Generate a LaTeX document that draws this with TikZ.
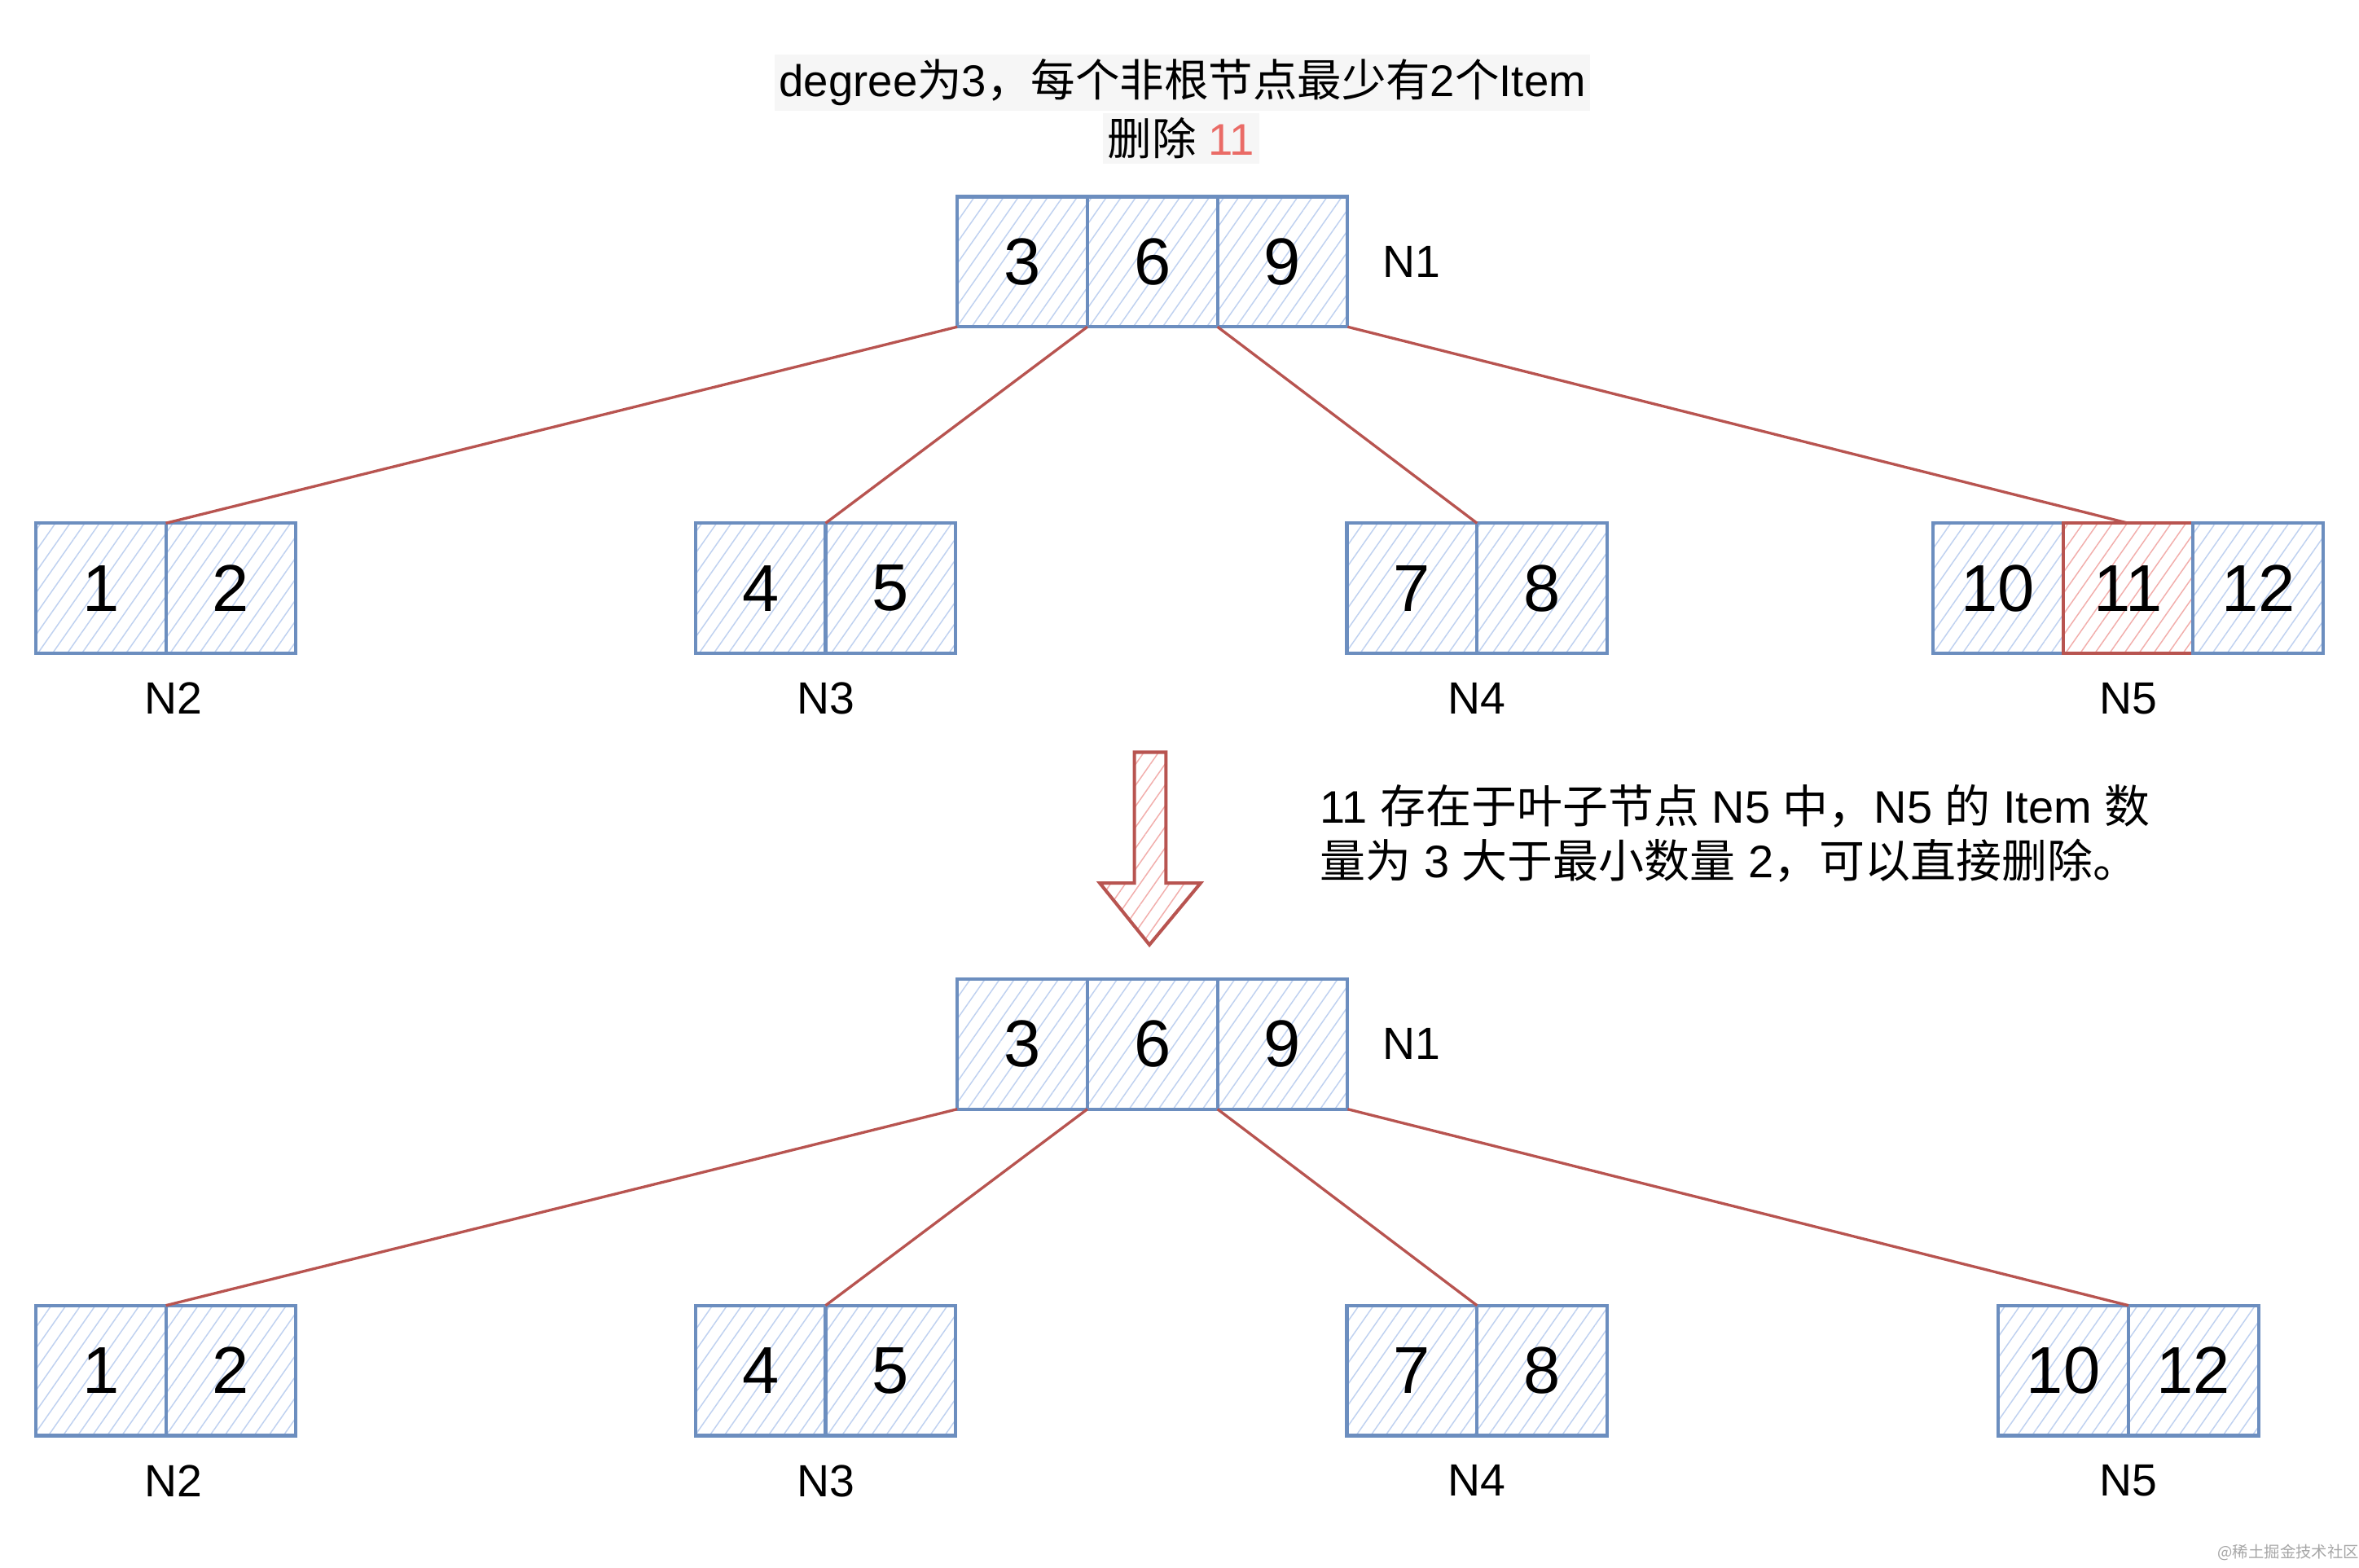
\documentclass[tikz,border=0pt]{standalone}
\usepackage{fontspec}
\setmainfont{Liberation Sans}
\newfontfamily\cjk{Noto Sans CJK SC}
\newcommand{\zh}[1]{{\cjk #1}}
\usetikzlibrary{positioning, patterns.meta}
\definecolor{cellblue}{HTML}{6C8EBF}
\definecolor{hatchblue}{HTML}{BFD1F0}
\definecolor{edgered}{HTML}{B85450}
\definecolor{hatchred}{HTML}{F2AEAC}
\definecolor{notered}{HTML}{EA6B66}
\definecolor{titlebg}{HTML}{F6F6F6}

\begin{document}
\begin{tikzpicture}[x=1pt, y=-1pt,
  cell/.style={rectangle, draw=cellblue, line width=2.2pt, minimum size=86.5pt, inner sep=0pt, outer sep=0pt, pattern={Lines[angle=55, distance=8pt, line width=0.8pt]}, pattern color=hatchblue, font=\fontsize{44}{50}\selectfont},
  delcell/.style={cell, draw=edgered, pattern color=hatchred},
  lbl/.style={font=\fontsize{30}{36}\selectfont},
  note/.style={font=\fontsize{29.5}{36}\selectfont, align=left},
  link/.style={draw=edgered, line width=1.8pt}
]
\fill[white] (0,0) rectangle (1568,1042);
\useasboundingbox (0,0) rectangle (1568,1042);

% title
\node[note, fill=titlebg, inner sep=3pt] (title) at (786,55) {degree\zh{为}3\zh{，每个非根节点最少有}2\zh{个}Item};
\node[note, fill=titlebg, inner sep=3pt] (task) at (785,92) {\zh{删除} \textcolor{notered}{11}};

% before
\node[cell] (a3) at (679.5,174) {3};
\node[cell, right=0pt of a3] (a6) {6};
\node[cell, right=0pt of a6] (a9) {9};
\node[lbl, right=20pt of a9] (n1a) {N1};

\node[cell] (b1) at (67,391) {1};
\node[cell, right=0pt of b1] (b2) {2};
\node[lbl, below=16pt of b1.south east, xshift=5pt] (n2a) {N2};
\node[cell] (b4) at (505.5,391) {4};
\node[cell, right=0pt of b4] (b5) {5};
\node[lbl, below=16pt of b4.south east] (n3a) {N3};
\node[cell] (b7) at (938.5,391) {7};
\node[cell, right=0pt of b7] (b8) {8};
\node[lbl, below=16pt of b7.south east] (n4a) {N4};
\node[cell] (b10) at (1328,391) {10};
\node[delcell, right=0pt of b10] (b11) {11};
\node[cell, right=0pt of b11] (b12) {12};
\node[lbl, below=16pt of b11.south] (n5a) {N5};

\draw[link] (a3.south west) -- (b1.north east);
\draw[link] (a3.south east) -- (b4.north east);
\draw[link] (a6.south east) -- (b7.north east);
\draw[link] (a9.south east) -- (b11.north);

% step
\draw[draw=edgered, line width=2.2pt, pattern={Lines[angle=55, distance=8pt, line width=0.8pt]}, pattern color=hatchred]
  (754,500) -- (775,500) -- (775,587) -- (798,587) -- (764,628) -- (731,587) -- (754,587) -- cycle;
\node[note, anchor=west, font=\fontsize{30.3}{36}\selectfont] (why) at (874,554) {11 \zh{存在于叶子节点} N5 \zh{中，}N5 \zh{的} Item \zh{数}\\\zh{量为} 3 \zh{大于最小数量} 2\zh{，可以直接删除。}};

% after
\node[cell] (c3) at (679.5,694) {3};
\node[cell, right=0pt of c3] (c6) {6};
\node[cell, right=0pt of c6] (c9) {9};
\node[lbl, right=20pt of c9] (n1b) {N1};

\node[cell] (d1) at (67,911) {1};
\node[cell, right=0pt of d1] (d2) {2};
\node[lbl, below=16pt of d1.south east, xshift=5pt] (n2b) {N2};
\node[cell] (d4) at (505.5,911) {4};
\node[cell, right=0pt of d4] (d5) {5};
\node[lbl, below=16pt of d4.south east] (n3b) {N3};
\node[cell] (d7) at (938.5,911) {7};
\node[cell, right=0pt of d7] (d8) {8};
\node[lbl, below=16pt of d7.south east] (n4b) {N4};
\node[cell] (d10) at (1371.5,911) {10};
\node[cell, right=0pt of d10] (d12) {12};
\node[lbl, below=16pt of d10.south east] (n5b) {N5};

\draw[link] (c3.south west) -- (d1.north east);
\draw[link] (c3.south east) -- (d4.north east);
\draw[link] (c6.south east) -- (d7.north east);
\draw[link] (c9.south east) -- (d10.north east);

\node[font=\fontsize{10.5}{12}\selectfont\cjk, text=gray!70] (mark) at (1521,1032) {@稀土掘金技术社区};
\end{tikzpicture}
\end{document}
